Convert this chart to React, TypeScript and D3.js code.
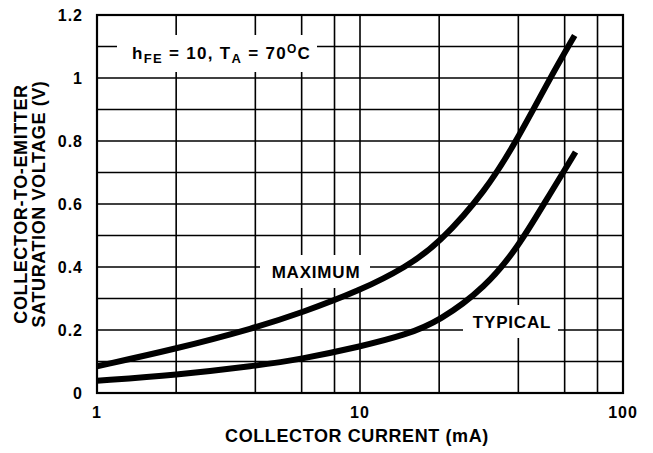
import React from "react";
import * as d3 from "d3";

const xGrid = [1, 2, 4, 6, 8, 10, 20, 40, 60, 80, 100];
const xTickLabels = [1, 10, 100];
const yGrid = [0, 0.1, 0.2, 0.3, 0.4, 0.5, 0.6, 0.7, 0.8, 0.9, 1.0, 1.1, 1.2];
const yTickLabels = [0, 0.2, 0.4, 0.6, 0.8, 1, 1.2];

const maxCurrent = [1, 2, 4, 6, 10, 15, 20, 30, 40, 52.8, 65.5];
const maxVoltage = [0.085, 0.14, 0.207, 0.255, 0.325, 0.4, 0.475, 0.64, 0.81, 1.0, 1.135];
const typCurrent = [1, 2, 4, 6, 10, 15, 20, 30, 40, 50, 66];
const typVoltage = [0.039, 0.057, 0.086, 0.108, 0.147, 0.185, 0.228, 0.335, 0.465, 0.6, 0.765];

const W = 653, H = 453;
const L = 97, R = 623, T = 15, B = 393;

export default function App() {
  const x = d3.scaleLog().domain([1, 100]).range([L, R]);
  const y = d3.scaleLinear().domain([0, 1.2]).range([B, T]);
  const line = d3
    .line<[number, number]>()
    .x((d) => x(d[0]))
    .y((d) => y(d[1]))
    .curve(d3.curveBasis);
  const maxPts = maxCurrent.map((c, i) => [c, maxVoltage[i]] as [number, number]);
  const typPts = typCurrent.map((c, i) => [c, typVoltage[i]] as [number, number]);
  const font = "'Liberation Sans', Arial, Helvetica, sans-serif";

  return (
    <svg width={W} height={H} style={{ position: "absolute", left: 0, top: 0, background: "#fff" }} fontFamily={font} fontWeight="bold">
      <rect x={0} y={0} width={W} height={H} fill="#fff" />
      {yGrid.map((v) => (
        <line key={"h" + v} x1={L} x2={R} y1={y(v)} y2={y(v)} stroke="#000" strokeWidth={1.6} />
      ))}
      {xGrid.map((v) => (
        <line key={"v" + v} x1={x(v)} x2={x(v)} y1={T} y2={B} stroke="#000" strokeWidth={1.6} />
      ))}
      <rect x={L} y={T} width={R - L} height={B - T} fill="none" stroke="#000" strokeWidth={2.2} />
      {/* label backgrounds */}
      <rect x={117} y={35} width={200} height={37} fill="#fff" />
      <rect x={260} y={255} width={110} height={33} fill="#fff" />
      <rect x={463} y={305} width={95} height={33} fill="#fff" />
      <path d={line(maxPts) || ""} fill="none" stroke="#000" strokeWidth={6} />
      <path d={line(typPts) || ""} fill="none" stroke="#000" strokeWidth={6} />
      <text x={132} y={59} fontSize={17} letterSpacing={1.3}>
        <tspan>h</tspan>
        <tspan fontSize={13} dy={4}>FE</tspan>
        <tspan dy={-4}> = 10, T</tspan>
        <tspan fontSize={13} dy={4}>A</tspan>
        <tspan dy={-4}> = 70</tspan>
        <tspan fontSize={12} dy={-6}>O</tspan>
        <tspan dy={6}>C</tspan>
      </text>
      <text x={316} y={278} fontSize={17} letterSpacing={0.8} textAnchor="middle">MAXIMUM</text>
      <text x={512} y={328} fontSize={17} letterSpacing={0.8} textAnchor="middle">TYPICAL</text>
      {yTickLabels.map((v) => (
        <text key={"yl" + v} x={83} y={y(v) + 5.5} fontSize={16} letterSpacing={1} textAnchor="end">{String(v)}</text>
      ))}
      {xTickLabels.map((v) => (
        <text key={"xl" + v} x={x(v)} y={418} fontSize={16} letterSpacing={1} textAnchor="middle">{String(v)}</text>
      ))}
      <text x={357} y={442} fontSize={18} letterSpacing={0.6} textAnchor="middle">COLLECTOR CURRENT (mA)</text>
      <text transform={`translate(27,${(T + B) / 2}) rotate(-90)`} fontSize={18} letterSpacing={0.6} textAnchor="middle">COLLECTOR-TO-EMITTER</text>
      <text transform={`translate(45,${(T + B) / 2}) rotate(-90)`} fontSize={18} letterSpacing={0.6} textAnchor="middle">SATURATION VOLTAGE (V)</text>
    </svg>
  );
}
